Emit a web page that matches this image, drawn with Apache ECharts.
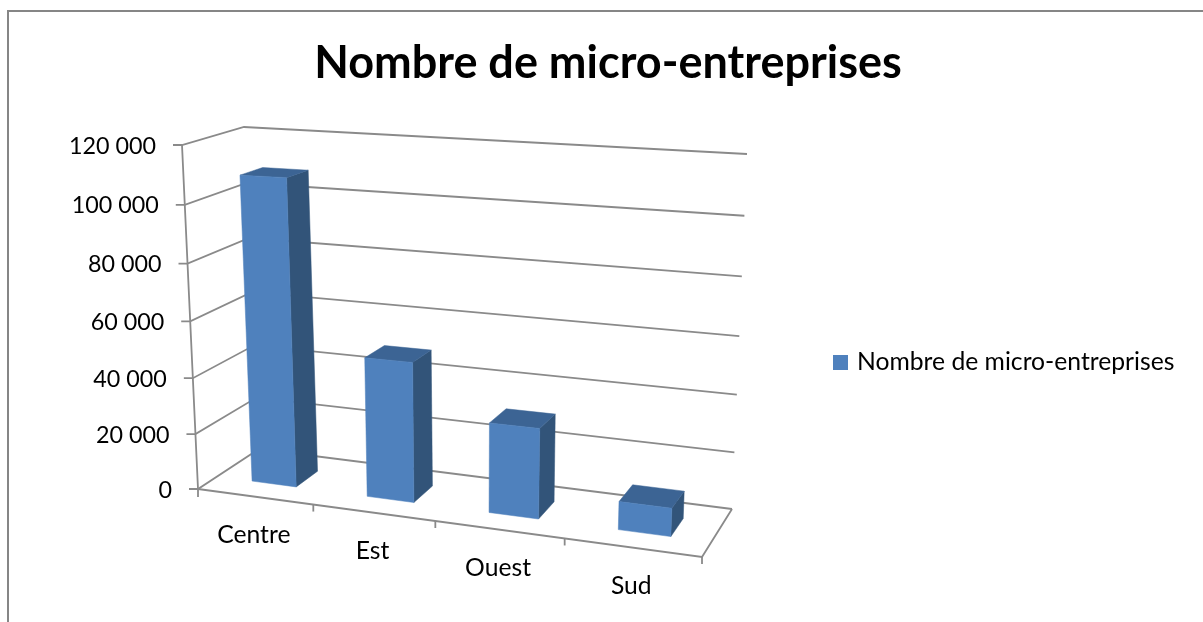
<!DOCTYPE html>
<html>
<head>
<meta charset="utf-8">
<style>
  html, body { margin: 0; padding: 0; background: #fff; }
  #chart { width: 1203px; height: 622px; }
</style>
<script src="https://cdn.jsdelivr.net/npm/echarts@6/dist/echarts.min.js"></script>
</head>
<body>
<div id="chart"></div>
<script>
const titleText = 'Nombre de micro-entreprises'
const seriesName = 'Nombre de micro-entreprises'
const categories = ['Centre', 'Est', 'Ouest', 'Sud']
const values = [108500, 49000, 31000, 9500]
const valueTicks = [0, 20000, 40000, 60000, 80000, 100000, 120000]
const tickLabels = ['0', '20 000', '40 000', '60 000', '80 000', '100 000', '120 000']

const FONT = 'Lato, "Noto Sans", sans-serif'
const LINE = '#8a8a8a'
const FRONT = '#4f81bd'
const TOP = '#3c6494'
const SIDE = '#325479'

// corners of the 3D box on screen, [x(0/1), y(0/1), z(0/1)]
const box = {
  '000': [198, 489], '010': [182, 145], '001': [259, 449], '011': [244, 127],
  '100': [702, 557], '110': [718, 167], '101': [732, 509], '111': [747, 154]
}
const barWidth = 0.39 // part of the category band
const barShift = 0.01
const barZ = [0.29, 0.67]

function project(x, y, z) {
  let sx = 0
  let sy = 0
  let sw = 0
  for (const key in box) {
    const [a, b, c] = key.split('').map(Number)
    const w = (a ? x : 1 - x) * (b ? y : 1 - y) * (c ? z : 1 - z) *
      (a ? 0.89 : 1) * (b ? 0.95 : 1) * (c ? 1.12 : 1)
    sx += w * box[key][0]
    sy += w * box[key][1]
    sw += w
  }
  return [sx / sw, sy / sw]
}

function toUnit(params, pt) {
  const g = params.coordSys
  return [(pt[0] - g.x) / g.width, 1 - (pt[1] - g.y) / g.height]
}

function lineEl(points) {
  return {
    type: 'polyline',
    shape: { points },
    style: { stroke: LINE, lineWidth: 1.8, fill: null }
  }
}

function textEl(x, y, text, align, size) {
  return {
    type: 'text',
    style: { x, y, text, fill: '#000', font: size + 'px ' + FONT, align, verticalAlign: 'middle' }
  }
}

// gridlines on the two walls + value labels
function renderTick(params, api) {
  const y = toUnit(params, api.coord([0, api.value(0)]))[1]
  const a = project(0, y, 0)
  return {
    type: 'group',
    children: [
      lineEl([[a[0] - 9, a[1]], a, project(0, y, 1), project(1, y, 1)]),
      textEl(a[0] - 26, a[1] + 1, tickLabels[params.dataIndex], 'right', 23.3)
    ]
  }
}

// floor edges, category ticks and labels
function renderCategory(params, api) {
  const g = params.coordSys
  const c = toUnit(params, api.coord([api.value(0), 0]))
  const band = api.size([1, 0])[0] / g.width
  const right = project(c[0] + band / 2, 0, 0)
  const mid = project(c[0], 0, 0)
  const children = [
    lineEl([right, [right[0], right[1] + 7]]),
    textEl(mid[0] - 1, mid[1] + 38, categories[params.dataIndex], 'center', 24.7)
  ]
  if (params.dataIndex === 0) {
    const a = project(0, 0, 0)
    children.push(lineEl([project(0, 1, 0), a, [a[0], a[1] + 8]]))
    children.push(lineEl([a, project(1, 0, 0), project(1, 0, 1)]))
  }
  return { type: 'group', children }
}

function renderBar(params, api) {
  const g = params.coordSys
  const band = api.size([1, 0])[0] / g.width
  const p = toUnit(params, api.coord([api.value(0), api.value(1)]))
  const x0 = p[0] + band * (barShift - barWidth / 2)
  const x1 = p[0] + band * (barShift + barWidth / 2)
  const h = p[1]
  const [z0, z1] = barZ
  const face = (pts, fill) => ({
    type: 'polygon',
    shape: { points: pts.map(q => project(q[0], q[1], q[2])) },
    style: { fill, stroke: fill, lineWidth: 0.5 }
  })
  return {
    type: 'group',
    children: [
      face([[x1, 0, z0], [x1, h, z0], [x1, h, z1], [x1, 0, z1]], SIDE),
      face([[x0, h, z0], [x1, h, z0], [x1, h, z1], [x0, h, z1]], TOP),
      face([[x0, 0, z0], [x1, 0, z0], [x1, h, z0], [x0, h, z0]], FRONT)
    ]
  }
}

const chart = echarts.init(document.getElementById('chart'))
chart.setOption({
  animation: false,
  backgroundColor: '#fff',
  title: {
    text: titleText,
    left: 603,
    top: 36,
    textAlign: 'center',
    textStyle: { fontFamily: FONT, fontSize: 45, fontWeight: 'bold', color: '#000' }
  },
  legend: {
    data: [seriesName],
    left: 833,
    top: 350,
    padding: 0,
    icon: 'rect',
    itemWidth: 15,
    itemHeight: 15,
    itemGap: 0,
    textStyle: { fontFamily: FONT, fontSize: 24.7, color: '#000', padding: [0, 0, 0, 4] },
    selectedMode: false
  },
  graphic: [{
    type: 'rect',
    shape: { x: 8, y: 11, width: 1400, height: 900 },
    style: { fill: null, stroke: '#868686', lineWidth: 2 },
    silent: true
  }],
  grid: { left: 198, top: 145, width: 504, height: 344 },
  xAxis: { type: 'category', data: categories, show: false },
  yAxis: { type: 'value', min: 0, max: 120000, interval: 20000, show: false },
  series: [
    {
      type: 'custom',
      name: 'ticks',
      coordinateSystem: 'cartesian2d',
      renderItem: renderTick,
      encode: { x: 1, y: 0 },
      data: valueTicks.map((v) => [v, 0]),
      silent: true,
      z: 1
    },
    {
      type: 'custom',
      name: 'categories',
      coordinateSystem: 'cartesian2d',
      renderItem: renderCategory,
      encode: { x: 0, y: 1 },
      data: categories.map((c, i) => [i, 0]),
      silent: true,
      z: 2
    },
    {
      type: 'custom',
      name: seriesName,
      coordinateSystem: 'cartesian2d',
      renderItem: renderBar,
      encode: { x: 0, y: 1 },
      itemStyle: { color: FRONT },
      data: values.map((v, i) => [i, v]),
      z: 3
    }
  ]
})
</script>
</body>
</html>
